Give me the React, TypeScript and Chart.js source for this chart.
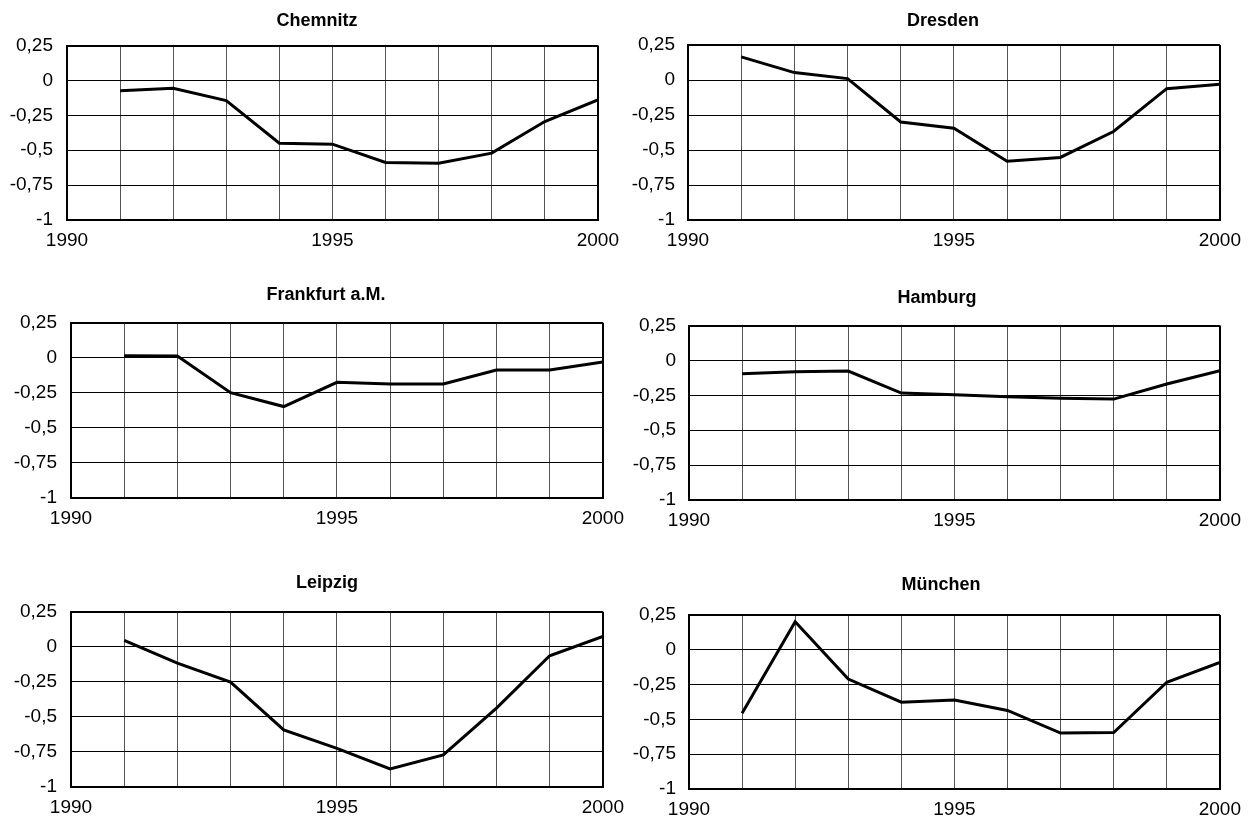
import React, { useEffect, useRef } from 'react';
import { Chart, registerables } from 'chart.js';

Chart.register(...registerables);

// ---- data ----
const years = [1991, 1992, 1993, 1994, 1995, 1996, 1997, 1998, 1999, 2000];
const xTickLabels = ['1990', '1995', '2000'];
const yTicks = [0.25, 0, -0.25, -0.5, -0.75, -1];

const chemnitz = [-0.074, -0.057, -0.145, -0.45, -0.457, -0.588, -0.593, -0.521, -0.295, -0.14];
const dresden = [0.165, 0.053, 0.01, -0.3, -0.345, -0.581, -0.553, -0.368, -0.062, -0.031];
const frankfurt = [0.015, 0.012, -0.249, -0.348, -0.175, -0.187, -0.187, -0.088, -0.088, -0.031];
const hamburg = [-0.095, -0.081, -0.076, -0.234, -0.246, -0.26, -0.272, -0.277, -0.169, -0.074];
const leipzig = [0.045, -0.117, -0.252, -0.593, -0.724, -0.871, -0.771, -0.438, -0.064, 0.074];
const muenchen = [-0.455, 0.202, -0.21, -0.376, -0.36, -0.436, -0.598, -0.595, -0.233, -0.09];

const cityNames = ['Chemnitz', 'Dresden', 'Frankfurt a.M.', 'Hamburg', 'Leipzig', 'München'];
const cityValues = [chemnitz, dresden, frankfurt, hamburg, leipzig, muenchen];

// ---- layout (page pixel positions of each panel) ----
const panels = [
  { canvasLeft: 0, plotLeft: 67, plotRight: 598, plotTop: 45.5, plotBottom: 220, titleX: 317, titleY: 21, labelPad: 14 },
  { canvasLeft: 625, plotLeft: 688, plotRight: 1220, plotTop: 45, plotBottom: 219.5, titleX: 943, titleY: 21, labelPad: 13 },
  { canvasLeft: 0, plotLeft: 71, plotRight: 603, plotTop: 322.7, plotBottom: 498, titleX: 326, titleY: 295, labelPad: 14 },
  { canvasLeft: 625, plotLeft: 689, plotRight: 1221, plotTop: 325.5, plotBottom: 500, titleX: 937, titleY: 298, labelPad: 13 },
  { canvasLeft: 0, plotLeft: 71, plotRight: 603, plotTop: 611.7, plotBottom: 787, titleX: 327, titleY: 583, labelPad: 14 },
  { canvasLeft: 625, plotLeft: 689, plotRight: 1221, plotTop: 615, plotBottom: 789, titleX: 941, titleY: 585, labelPad: 13 },
];

const FONT = '"Liberation Sans", Arial, Helvetica, sans-serif';
const TITLE_SIZE = 18;
const TICK_SIZE = 19;
const X_AXIS_H = 30;

function fmt(v: number): string {
  const r = Math.round(v * 100) / 100;
  return String(r).replace('.', ',');
}

function Panel({ title, values, p }: { title: string; values: number[]; p: any }) {
  const ref = useRef<HTMLCanvasElement>(null);

  const L = p.canvasLeft;
  const rightEdge = Math.min(p.plotRight + 30, 1250);
  const W = rightEdge - L;
  const padRight = rightEdge - p.plotRight;
  const yW = p.plotLeft - L;
  const T = p.titleY - 20;
  const H = Math.ceil(p.plotBottom + X_AXIS_H - T);
  const padTop = p.plotTop - T;

  useEffect(() => {
    if (!ref.current) return;
    const titlePlugin = {
      id: 'panelTitle',
      afterDraw(chart: any) {
        const ctx = chart.ctx;
        ctx.save();
        ctx.font = `bold ${TITLE_SIZE}px ${FONT}`;
        ctx.fillStyle = '#000';
        ctx.textAlign = 'center';
        ctx.textBaseline = 'middle';
        ctx.fillText(title, p.titleX - L, p.titleY - T);
        ctx.restore();
      },
    };
    const chart = new Chart(ref.current, {
      type: 'line',
      data: {
        datasets: [
          {
            data: years.map((y, i) => ({ x: y, y: values[i] })),
            borderColor: '#000',
            borderWidth: 3,
            pointRadius: 0,
            tension: 0,
            fill: false,
          },
        ],
      },
      options: {
        animation: false,
        responsive: false,
        layout: { padding: { left: 0, right: padRight, top: padTop, bottom: 0 } },
        plugins: {
          legend: { display: false },
          tooltip: { enabled: false },
          title: { display: false },
        },
        scales: {
          x: {
            type: 'linear',
            min: 1990,
            max: 2000,
            afterFit: (s: any) => {
              s.height = X_AXIS_H;
            },
            ticks: {
              stepSize: 1,
              autoSkip: false,
              maxRotation: 0,
              padding: 9,
              color: '#000',
              font: { family: FONT, size: TICK_SIZE },
              callback: (v: any) => (xTickLabels.includes(String(v)) ? String(v) : ''),
            },
            grid: {
              drawTicks: false,
              color: (c: any) => (c.tick && (c.tick.value === 1990 || c.tick.value === 2000) ? '#000' : '#555'),
              lineWidth: (c: any) => (c.tick && (c.tick.value === 1990 || c.tick.value === 2000) ? 2 : 1),
            },
            border: { display: true, color: '#000', width: 2 },
          },
          y: {
            type: 'linear',
            min: -1,
            max: 0.25,
            afterFit: (s: any) => {
              s.width = yW;
            },
            afterBuildTicks: (s: any) => {
              s.ticks = yTicks.map((v) => ({ value: v }));
            },
            ticks: {
              stepSize: 0.25,
              padding: p.labelPad,
              color: '#000',
              font: { family: FONT, size: TICK_SIZE },
              callback: (v: any) => fmt(Number(v)),
            },
            grid: {
              drawTicks: false,
              color: '#000',
              lineWidth: (c: any) => (c.tick && c.tick.value === 0.25 ? 2 : 1),
            },
            border: { display: true, color: '#000', width: 2 },
          },
        },
      },
      plugins: [titlePlugin],
    });
    return () => chart.destroy();
  }, []);

  return (
    <canvas
      ref={ref}
      width={W}
      height={H}
      style={{ position: 'absolute', left: L, top: T, width: W, height: H }}
    />
  );
}

export default function App() {
  return (
    <div
      style={{
        position: 'fixed',
        left: 0,
        top: 0,
        width: 1250,
        height: 818,
        overflow: 'hidden',
        background: '#fff',
      }}
    >
      {panels.map((p, i) => (
        <Panel key={i} title={cityNames[i]} values={cityValues[i]} p={p} />
      ))}
    </div>
  );
}
